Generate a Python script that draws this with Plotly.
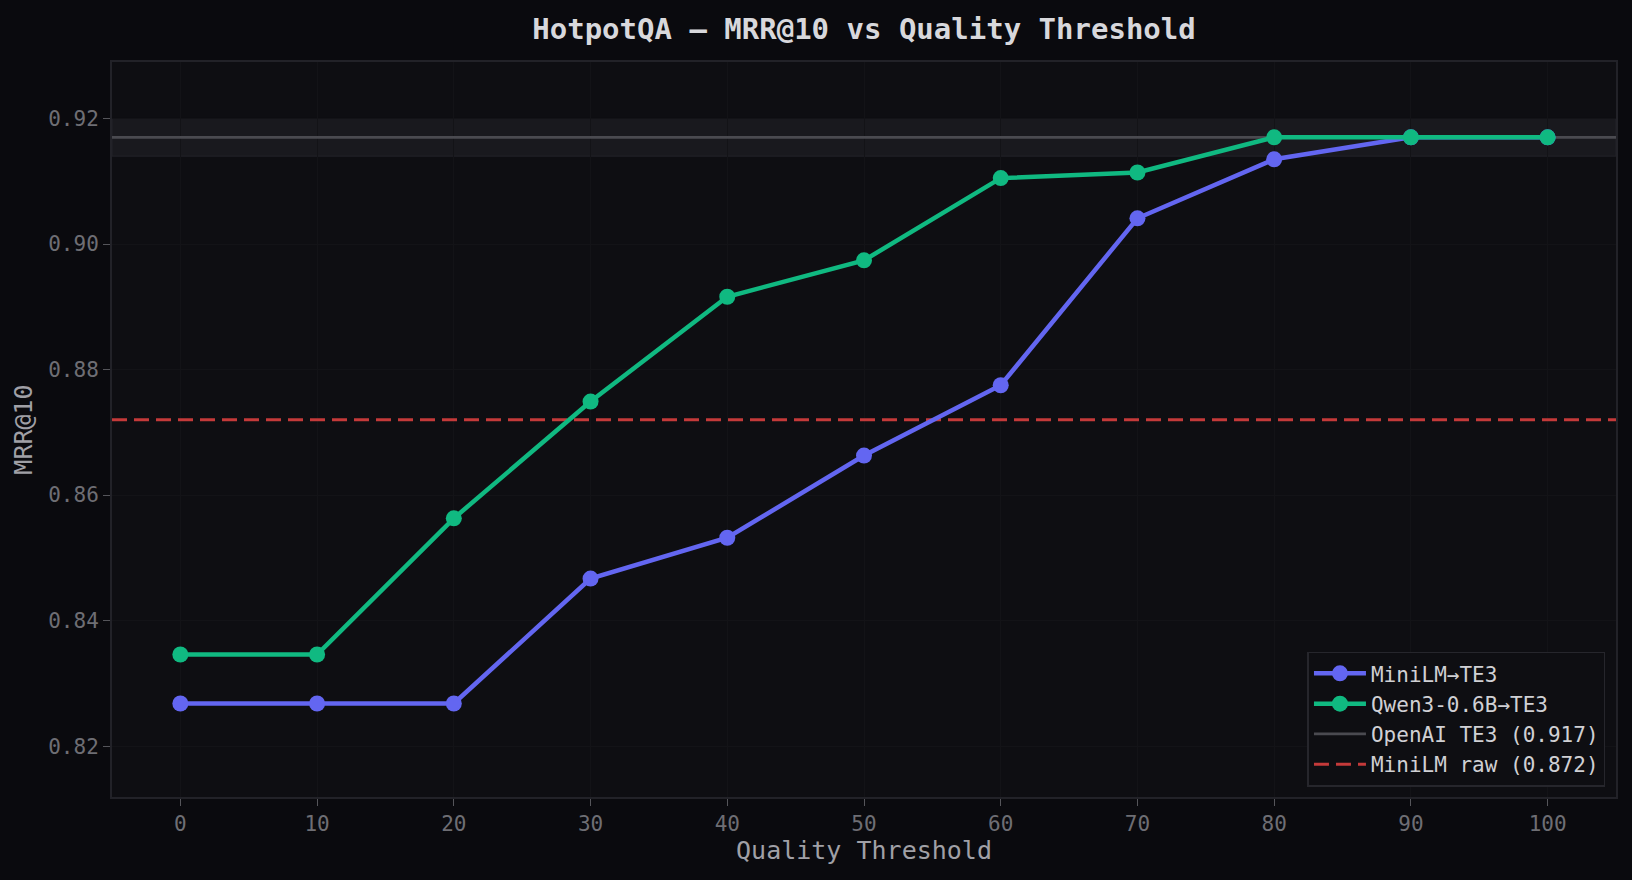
import plotly.graph_objects as go

thresholds = [0, 10, 20, 30, 40, 50, 60, 70, 80, 90, 100]
minilm_te3 = [0.8268, 0.8268, 0.8268, 0.8467, 0.8532, 0.8663, 0.8775, 0.9041, 0.9135, 0.917, 0.917]
qwen_te3 = [0.8346, 0.8346, 0.8563, 0.8749, 0.8916, 0.8974, 0.9105, 0.9114, 0.917, 0.917, 0.917]
openai_te3 = 0.917
openai_band = [0.914, 0.920]
minilm_raw = 0.872
x_range = [-5, 105]
y_ticks = [0.82, 0.84, 0.86, 0.88, 0.90, 0.92]

FONT = "DejaVu Sans Mono"
fig = go.Figure()

fig.add_shape(type="rect", xref="paper", yref="y", x0=0, x1=1,
              y0=openai_band[0], y1=openai_band[1],
              fillcolor="#19191e", line=dict(color="#232329", width=1), layer="below")

fig.add_trace(go.Scatter(x=x_range, y=[openai_te3, openai_te3], mode="lines", name="OpenAI TE3 (0.917)",
                         line=dict(color="#4a4a50", width=2.8), legendrank=3))
fig.add_trace(go.Scatter(x=x_range, y=[minilm_raw, minilm_raw], mode="lines", name="MiniLM raw (0.872)",
                         line=dict(color="#c43a3a", width=3, dash="15px,7px"), legendrank=4))
fig.add_trace(go.Scatter(x=thresholds, y=minilm_te3, mode="lines+markers", name="MiniLM→TE3",
                         line=dict(color="#6366f1", width=4.5), marker=dict(size=16, color="#6366f1"),
                         legendrank=1))
fig.add_trace(go.Scatter(x=thresholds, y=qwen_te3, mode="lines+markers", name="Qwen3-0.6B→TE3",
                         line=dict(color="#10b981", width=4.5), marker=dict(size=16, color="#10b981"),
                         legendrank=2))

fig.update_layout(
    width=1632, height=880,
    paper_bgcolor="#0a0a0e", plot_bgcolor="#0e0e12",
    font=dict(family=FONT, color="#8a8a90", size=20),
    title=dict(text="<b>HotpotQA — MRR@10 vs Quality Threshold</b>", xref="paper", x=0.5, xanchor="center",
               y=0.967, yanchor="middle", font=dict(family=FONT, size=29, color="#d8d8dc")),
    margin=dict(l=112, r=16, t=62, b=83),
    legend=dict(x=0.993, y=0.014, xanchor="right", yanchor="bottom", bgcolor="#0e0e12",
                bordercolor="#26262c", borderwidth=1.5, font=dict(family=FONT, size=21, color="#d0d0d4"),
                traceorder="normal", itemwidth=52),
    showlegend=True,
)
fig.update_xaxes(range=x_range, tickvals=thresholds, ticks="outside", ticklen=7, tickcolor="#55555a",
                 showgrid=True, gridcolor="#131317", zeroline=False, showline=True, linecolor="#222228",
                 mirror=True, linewidth=2, tickfont=dict(size=21, color="#6e6e74"),
                 title=dict(text="Quality Threshold", font=dict(size=25, color="#a0a0a6"), standoff=6))
fig.update_yaxes(range=[0.8119, 0.929], tickvals=y_ticks, tickformat=".2f", ticks="outside", ticklen=7,
                 tickcolor="#55555a", showgrid=True, gridcolor="#131317", zeroline=False, showline=True,
                 linecolor="#222228", mirror=True, linewidth=2, tickfont=dict(size=21, color="#6e6e74"),
                 title=dict(text="MRR@10", font=dict(size=25, color="#a0a0a6"), standoff=8))

fig.write_html("out.html", config={"displayModeBar": False},
               post_script="document.body.style.margin='0';document.body.style.background='#0a0a0e';")
